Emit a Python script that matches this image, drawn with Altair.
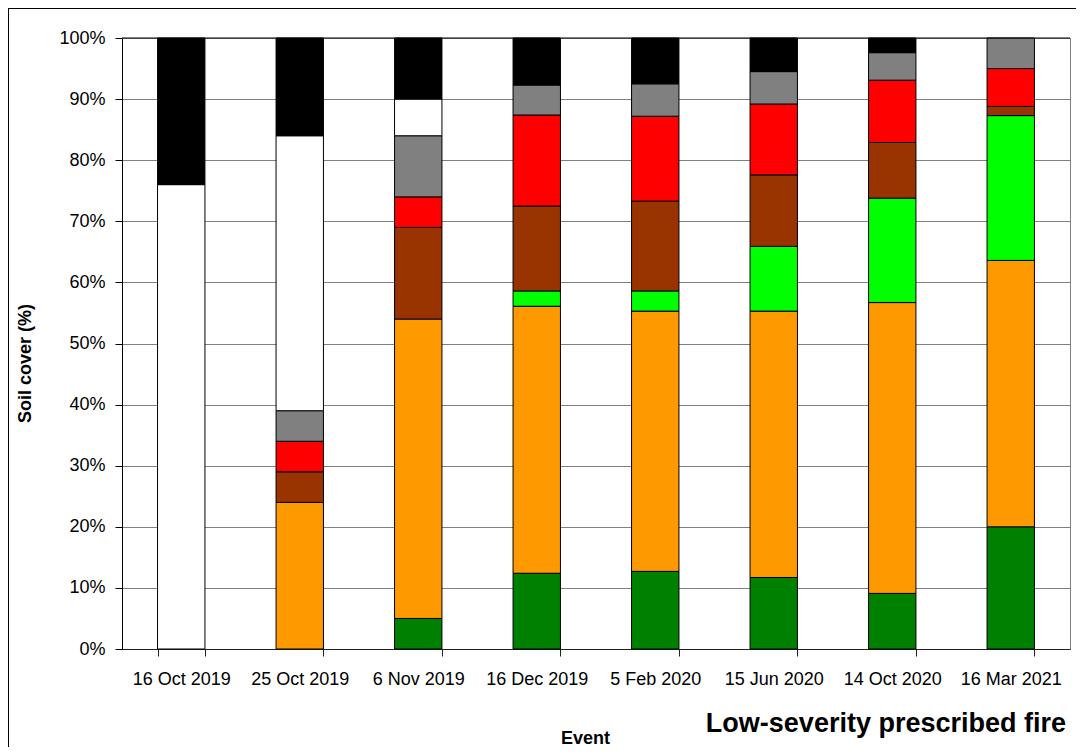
import altair as alt
import pandas as pd

events = ["16 Oct 2019", "25 Oct 2019", "6 Nov 2019", "16 Dec 2019",
          "5 Feb 2020", "15 Jun 2020", "14 Oct 2020", "16 Mar 2021"]

series = ["Dark green", "Orange", "Light green", "Brown",
          "Red", "Grey", "White", "Black"]
colors = ["#008000", "#FF9900", "#00FF00", "#993300",
          "#FF0000", "#808080", "#FFFFFF", "#000000"]

dark_green = [0, 0, 5, 12.4, 12.7, 11.7, 9.1, 20.0]
orange = [0, 24, 49, 43.7, 42.6, 43.6, 47.6, 43.6]
light_green = [0, 0, 0, 2.5, 3.3, 10.6, 17.1, 23.7]
brown = [0, 5, 15, 13.9, 14.7, 11.7, 9.1, 1.5]
red = [0, 5, 5, 14.9, 13.9, 11.6, 10.2, 6.2]
grey = [0, 5, 10, 4.9, 5.3, 5.3, 4.5, 5.0]
white = [76, 45, 6, 0, 0, 0, 0, 0]
black = [24, 16, 10, 7.7, 7.5, 5.5, 2.4, 0]

y_ticks = [0, 10, 20, 30, 40, 50, 60, 70, 80, 90, 100]
chart_label = ["Low-severity prescribed fire"]

all_values = [dark_green, orange, light_green, brown, red, grey, white, black]
rows = []
for k, (s, vals) in enumerate(zip(series, all_values)):
    for e, v in zip(events, vals):
        if v > 0:
            rows.append({"event": e, "series": s, "k": k, "value": v})
df = pd.DataFrame(rows)

FONT = "Liberation Sans"
W, H = 948, 611
PAD = {"left": 114, "top": 30, "right": 6, "bottom": 98}

bars = alt.Chart(df).mark_bar(stroke="black", strokeWidth=1).encode(
    x=alt.X("event:N", sort=events,
            scale=alt.Scale(paddingInner=0.6, paddingOuter=0.3),
            axis=alt.Axis(title="Event", labelAngle=0, labelFont=FONT,
                          labelFontSize=18, labelColor="black", labelPadding=14,
                          tickBand="extent", tickSize=7, tickColor="#222222",
                          domainColor="#222222", grid=False,
                          titleFont=FONT, titleFontSize=18, titleFontWeight="bold",
                          titleColor="black", titleX=463, titleY=94,
                          titleBaseline="alphabetic", titleAlign="center")),
    y=alt.Y("value:Q", stack="zero",
            scale=alt.Scale(domain=[0, 100], nice=False),
            axis=alt.Axis(values=y_ticks, labelExpr="datum.value + '%'",
                          labelFont=FONT, labelFontSize=18, labelColor="black",
                          labelPadding=10, tickSize=7, tickColor="black",
                          domainColor="black", grid=True, gridColor="#808080",
                          gridWidth=1, title="Soil cover (%)", titleFont=FONT,
                          titleFontSize=18, titleFontWeight="bold",
                          titleColor="black", titleAngle=270, titleX=-92,
                          titleY=325, titleBaseline="alphabetic",
                          titleAlign="center")),
    color=alt.Color("series:N", scale=alt.Scale(domain=series, range=colors),
                    legend=None),
    order=alt.Order("k:Q", sort="ascending"),
)

one = pd.DataFrame({"a": [0]})

top_rule = alt.Chart(one).mark_rule(color="black", strokeWidth=1).encode(
    x=alt.value(0), x2=alt.value(W), y=alt.value(0))

frame_top = alt.Chart(one).mark_rule(color="black", strokeWidth=2).encode(
    x=alt.value(-PAD["left"]), x2=alt.value(W + PAD["right"]),
    y=alt.value(-PAD["top"]))

frame_left = alt.Chart(one).mark_rule(color="black", strokeWidth=2).encode(
    x=alt.value(-PAD["left"]), y=alt.value(-PAD["top"]),
    y2=alt.value(H + PAD["bottom"]))

label = alt.Chart(pd.DataFrame({"t": chart_label})).mark_text(
    font=FONT, fontSize=27, fontWeight="bold", color="black",
    align="right", baseline="alphabetic").encode(
    x=alt.value(944), y=alt.value(694), text="t:N")

chart = alt.layer(bars, top_rule, frame_top, frame_left, label).properties(
    width=W, height=H, padding=PAD,
    autosize=alt.AutoSizeParams(type="none"),
    background="white",
).configure_view(stroke="#808080", strokeWidth=1)

chart.save("out.html", embed_options={"renderer": "svg", "actions": False})
